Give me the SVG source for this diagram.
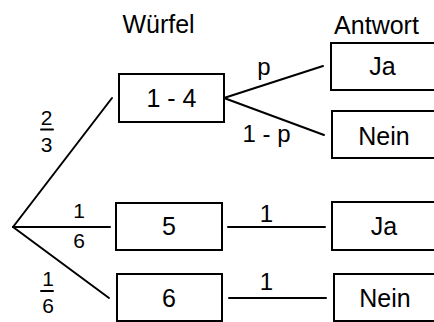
<svg xmlns="http://www.w3.org/2000/svg" width="434" height="322" viewBox="0 0 434 322">
<style>
rect{fill:#fff;stroke:#000;stroke-width:2}
line{stroke:#000;stroke-width:2;stroke-linecap:round}
text{font-family:"Liberation Sans",Arial,sans-serif;fill:#000;text-anchor:middle}
.t{font-size:25px}
.l{font-size:24px}
.f{font-size:21px}
</style>
<text class="t" x="158.5" y="33">Würfel</text>
<text class="t" x="376.5" y="34">Antwort</text>
<g id="connectors">
<line x1="13" y1="227" x2="112" y2="98"/>
<line x1="13" y1="227" x2="110" y2="227"/>
<line x1="13" y1="227" x2="109" y2="298"/>
<line x1="224" y1="98" x2="323" y2="66"/>
<line x1="224" y1="98" x2="324" y2="135"/>
<line x1="228" y1="227" x2="325" y2="227"/>
<line x1="229" y1="298" x2="326" y2="298"/>
<line x1="41" y1="129.5" x2="53" y2="129.5"/>
<line x1="41" y1="291" x2="53" y2="291"/>
<text class="f" x="46.5" y="124.5">2</text>
<text class="f" x="46.5" y="151.5">3</text>
<text class="f" x="79" y="217.5">1</text>
<text class="f" x="79" y="247.5">6</text>
<text class="f" x="48" y="286">1</text>
<text class="f" x="48" y="312.5">6</text>
<text class="l" x="264" y="75">p</text>
<text class="l" x="266.5" y="141.5">1 - p</text>
<text class="l" x="266.5" y="221.5">1</text>
<text class="l" x="266.5" y="290">1</text>
</g>
<g id="n14"><rect x="119" y="74" width="105" height="48"/><text class="t" x="171.5" y="107">1 - 4</text></g>
<g id="n5"><rect x="116" y="203" width="106" height="47"/><text class="t" x="169" y="235">5</text></g>
<g id="n6"><rect x="117" y="274" width="105" height="47"/><text class="t" x="169" y="306.5">6</text></g>
<g id="ja1"><rect x="331" y="43" width="110" height="47"/><text class="t" x="382.5" y="75">Ja</text></g>
<g id="nein1"><rect x="332" y="111" width="110" height="47"/><text class="t" x="384" y="145">Nein</text></g>
<g id="ja2"><rect x="332" y="202" width="110" height="48"/><text class="t" x="384" y="235">Ja</text></g>
<g id="nein2"><rect x="334" y="274" width="110" height="47"/><text class="t" x="385" y="306.5">Nein</text></g>
</svg>
